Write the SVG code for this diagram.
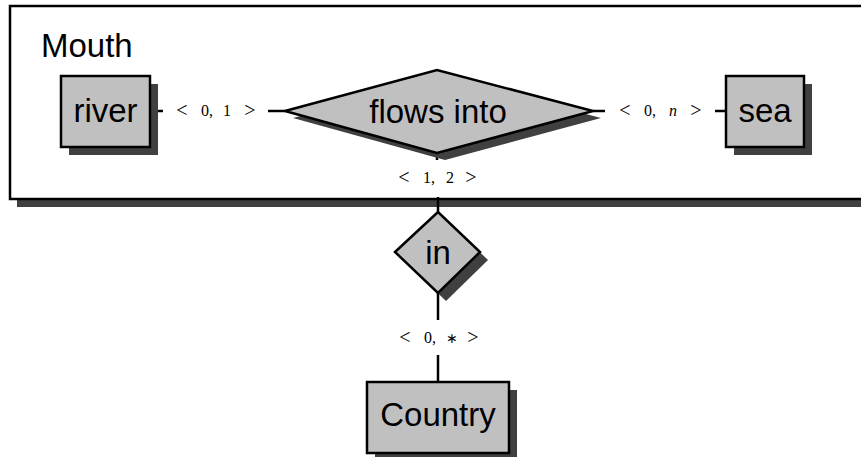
<svg xmlns="http://www.w3.org/2000/svg" width="861" height="457" viewBox="0 0 861 457">
<style>
.shadow{fill:#404040;stroke:none}
.node{fill:#c0c0c0;stroke:#000;stroke-width:2.5}
.lbl{font-family:"Liberation Sans",Arial,sans-serif;font-size:33px;fill:#000;text-anchor:middle}
.card{font-family:"Liberation Serif","Times New Roman",serif;font-size:16px;fill:#000;text-anchor:middle}
.rel{font-size:20px}
.conn{stroke:#000;stroke-width:2.5;fill:none}
</style>
<rect width="861" height="457" fill="#fff"/>
<g id="Mouth">
<rect class="shadow" x="17" y="13" width="900" height="194"/>
<rect x="10" y="6" width="900" height="193" fill="#fff" stroke="#000" stroke-width="2.5"/>
<text class="lbl" x="41" y="57" style="text-anchor:start">Mouth</text>
</g>
<g id="connectors">
<line class="conn" x1="150" y1="111" x2="163" y2="111"/>
<line class="conn" x1="268" y1="111" x2="285" y2="111"/>
<line class="conn" x1="593" y1="111" x2="605" y2="111"/>
<line class="conn" x1="715" y1="111" x2="726" y2="111"/>
<line class="conn" x1="437" y1="147" x2="437" y2="160"/>
<line class="conn" x1="438" y1="197" x2="438" y2="212"/>
<line class="conn" x1="438" y1="293" x2="438" y2="320"/>
<line class="conn" x1="438" y1="355" x2="438" y2="382"/>
<text class="card" y="116"><tspan class="rel" x="182" y="117">&lt;</tspan><tspan x="207" y="116">0,</tspan><tspan x="227">1</tspan><tspan class="rel" x="250" y="117">&gt;</tspan></text>
<text class="card" y="116"><tspan class="rel" x="625" y="117">&lt;</tspan><tspan x="650" y="116">0,</tspan><tspan x="673" font-style="italic">n</tspan><tspan class="rel" x="696" y="117">&gt;</tspan></text>
<text class="card" y="183"><tspan class="rel" x="404" y="184">&lt;</tspan><tspan x="429" y="183">1,</tspan><tspan x="450">2</tspan><tspan class="rel" x="471" y="184">&gt;</tspan></text>
<text class="card" y="343"><tspan class="rel" x="405" y="344">&lt;</tspan><tspan x="430" y="343">0,</tspan><tspan x="452" font-size="14">∗</tspan><tspan class="rel" x="473" y="344">&gt;</tspan></text>
</g>
<g id="river">
<rect class="shadow" x="69" y="84" width="89" height="71"/>
<rect class="node" x="61" y="76" width="89" height="71"/>
<text class="lbl" x="105.5" y="122">river</text>
</g>
<g id="sea">
<rect class="shadow" x="734" y="84" width="78" height="71"/>
<rect class="node" x="726" y="76" width="78" height="71"/>
<text class="lbl" x="765" y="122">sea</text>
</g>
<g id="flows_into">
<polygon class="shadow" points="293,118 445,77 601,118 445,160"/>
<polygon class="node" points="285,111 437,70 593,111 437,153"/>
<text class="lbl" x="438" y="123">flows into</text>
</g>
<g id="in">
<polygon class="shadow" points="403,260 446,220 488,260 446,301"/>
<polygon class="node" points="395,252 438,212 480,252 438,293"/>
<text class="lbl" x="438" y="264">in</text>
</g>
<g id="Country">
<rect class="shadow" x="375" y="390" width="142" height="71"/>
<rect class="node" x="367" y="382" width="142" height="71"/>
<text class="lbl" x="438" y="426">Country</text>
</g>
</svg>
